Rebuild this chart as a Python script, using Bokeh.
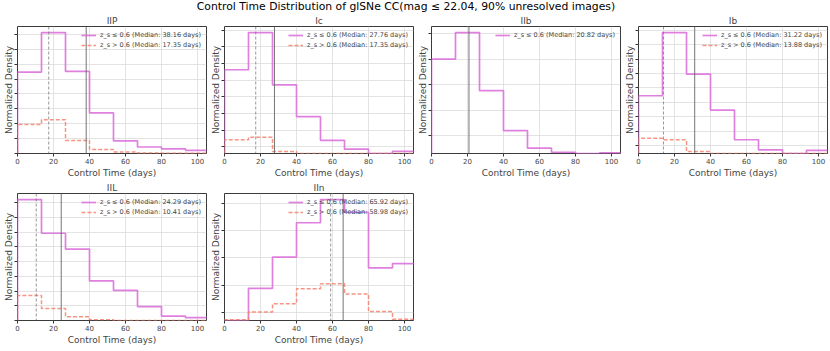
import numpy as np
from bokeh.plotting import figure
from bokeh.models import Range1d, FixedTicker, Span, Div, CustomJSTickFormatter
from bokeh.layouts import column, row
from bokeh.embed import file_html
from bokeh.resources import INLINE

SUPTITLE = "Control Time Distribution of glSNe CC(mag ≤ 22.04, 90% unresolved images)"
BIN_EDGES = [0, 13.33, 26.67, 40, 53.33, 66.67, 80, 93.33, 106.67]
X_TICKS = [0, 20, 40, 60, 80, 100]
X_MAX = 105

TYPES = ["IIP", "Ic", "IIb", "Ib", "IIL", "IIn"]

# normalized density (relative units), z_s <= 0.6
LOW_Z = {
    "IIP": [0.640, 0.951, 0.645, 0.319, 0.100, 0.051, 0.037, 0.025],
    "Ic":  [0.657, 0.949, 0.539, 0.289, 0.103, 0.034, 0.000, 0.017],
    "IIb": [0.743, 0.953, 0.495, 0.181, 0.042, 0.010, 0.000, 0.005],
    "Ib":  [0.453, 0.949, 0.623, 0.341, 0.108, 0.029, 0.000, 0.025],
    "IIL": [0.954, 0.688, 0.563, 0.312, 0.237, 0.110, 0.034, 0.022],
    "IIn": [0.000, 0.254, 0.500, 0.771, 0.954, 0.854, 0.415, 0.449],
}
# z_s > 0.6
HIGH_Z = {
    "IIP": [0.228, 0.265, 0.103, 0.032, 0.012, 0.003, 0.001, 0.001],
    "Ic":  [0.108, 0.127, 0.015, 0.0, 0.0, 0.0, 0.0, 0.0],
    "IIb": None,
    "Ib":  [0.120, 0.108, 0.015, 0.0, 0.0, 0.0, 0.0, 0.0],
    "IIL": [0.198, 0.095, 0.029, 0.005, 0.0, 0.0, 0.0, 0.0],
    "IIn": [0.005, 0.068, 0.132, 0.251, 0.290, 0.210, 0.071, 0.010],
}
MED_LOW = {"IIP": 38.16, "Ic": 27.76, "IIb": 20.82, "Ib": 31.22, "IIL": 24.29, "IIn": 65.92}
MED_HIGH = {"IIP": 17.35, "Ic": 17.35, "IIb": None, "Ib": 13.88, "IIL": 10.41, "IIn": 58.98}

Y_TICK_STEP = {"IIP": 0.117, "Ic": 0.131, "IIb": 0.200, "Ib": 0.1125, "IIL": 0.116, "IIn": 0.214}
Y_TICK_START = {"IIP": 0.0, "Ic": 0.051, "IIb": 0.142, "Ib": 0.064, "IIL": 0.0, "IIn": 0.066}

FONT = "DejaVu Sans"
LOW_COLOR = "#dc72dc"
HIGH_COLOR = "#f5826f"


def step_xy(vals):
    xs = [BIN_EDGES[0]]
    ys = [0.0]
    for i, v in enumerate(vals):
        xs += [BIN_EDGES[i], BIN_EDGES[i + 1]]
        ys += [v, v]
    xs.append(BIN_EDGES[-1])
    ys.append(0.0)
    return xs, ys


def make_panel(name):
    low = LOW_Z[name]
    high = HIGH_Z[name]
    allv = list(low) + (list(high) if high else [])
    ymax = max(allv) * 1.05
    p = figure(frame_width=189, frame_height=127,
               x_range=Range1d(0, X_MAX), y_range=Range1d(0, ymax),
               output_backend="svg", toolbar_location=None,
               min_border_left=0, min_border_right=1,
               min_border_top=0, min_border_bottom=0, title=name)
    p.background_fill_color = "white"
    p.border_fill_color = "white"
    p.outline_line_color = "#3a3a3a"
    p.outline_line_width = 1

    p.title.align = "center"
    p.title.text_font = FONT
    p.title.text_font_size = "9px"
    p.title.text_font_style = "normal"
    p.title.standoff = 1
    p.title.offset = 0

    xs, ys = step_xy(low)
    p.line(xs, ys, line_color=LOW_COLOR, line_width=1.7, line_alpha=0.9,
           legend_label=f"z_s ≤ 0.6 (Median: {MED_LOW[name]:.2f} days)")
    if high:
        xs2, ys2 = step_xy(high)
        p.line(xs2, ys2, line_color=HIGH_COLOR, line_width=1.5, line_alpha=0.85,
               line_dash="4 2",
               legend_label=f"z_s > 0.6 (Median: {MED_HIGH[name]:.2f} days)")

    p.add_layout(Span(location=MED_LOW[name], dimension="height",
                      line_color="#666666", line_width=1, line_alpha=0.9))
    if MED_HIGH[name] is not None:
        p.add_layout(Span(location=MED_HIGH[name], dimension="height",
                          line_color="#6e6e6e", line_width=0.9, line_alpha=0.8,
                          line_dash="3 2"))

    # axes
    p.xaxis.ticker = FixedTicker(ticks=X_TICKS)
    p.xaxis.axis_label = "Control Time (days)"
    p.yaxis.axis_label = "Normalized Density"
    yt = [float(t) for t in np.arange(Y_TICK_START[name], ymax, Y_TICK_STEP[name])]
    p.yaxis.ticker = FixedTicker(ticks=yt)
    p.yaxis.formatter = CustomJSTickFormatter(code="return ''")
    for ax in (p.xaxis[0], p.yaxis[0]):
        ax.axis_line_color = None
        ax.major_tick_line_color = "#333333"
        ax.major_tick_out = 3
        ax.major_tick_in = 0
        ax.minor_tick_line_color = None
        ax.axis_label_text_font = FONT
        ax.axis_label_text_font_size = "9px"
        ax.axis_label_text_font_style = "normal"
        ax.axis_label_standoff = 1
        ax.major_label_text_font = FONT
        ax.major_label_text_font_size = "7px"
        ax.major_label_standoff = 1
    p.yaxis.major_label_standoff = 0

    p.xgrid.ticker = FixedTicker(ticks=X_TICKS)
    p.ygrid.ticker = FixedTicker(ticks=yt)
    p.grid.grid_line_color = "#dcdcdc"
    p.grid.grid_line_width = 0.8

    lg = p.legend[0]
    lg.location = "top_right"
    lg.background_fill_alpha = 0
    lg.border_line_alpha = 0
    lg.label_text_font = FONT
    lg.label_text_font_size = "6.5px"
    lg.glyph_width = 15
    lg.glyph_height = 8
    lg.label_height = 8
    lg.spacing = 2
    lg.padding = 3
    lg.margin = 2
    lg.label_standoff = 4
    return p


panels = [make_panel(t) for t in TYPES]

title_div = Div(text=SUPTITLE, width=812, height=13, margin=(0, 0, 0, 0),
                styles={"font-size": "10.8px", "text-align": "center",
                        "font-family": FONT, "line-height": "13px",
                        "white-space": "nowrap"})

layout = column(title_div,
                row(panels[0], panels[1], panels[2], panels[3]),
                row(panels[4], panels[5]))

open("out.html", "w").write(file_html(layout, INLINE))
